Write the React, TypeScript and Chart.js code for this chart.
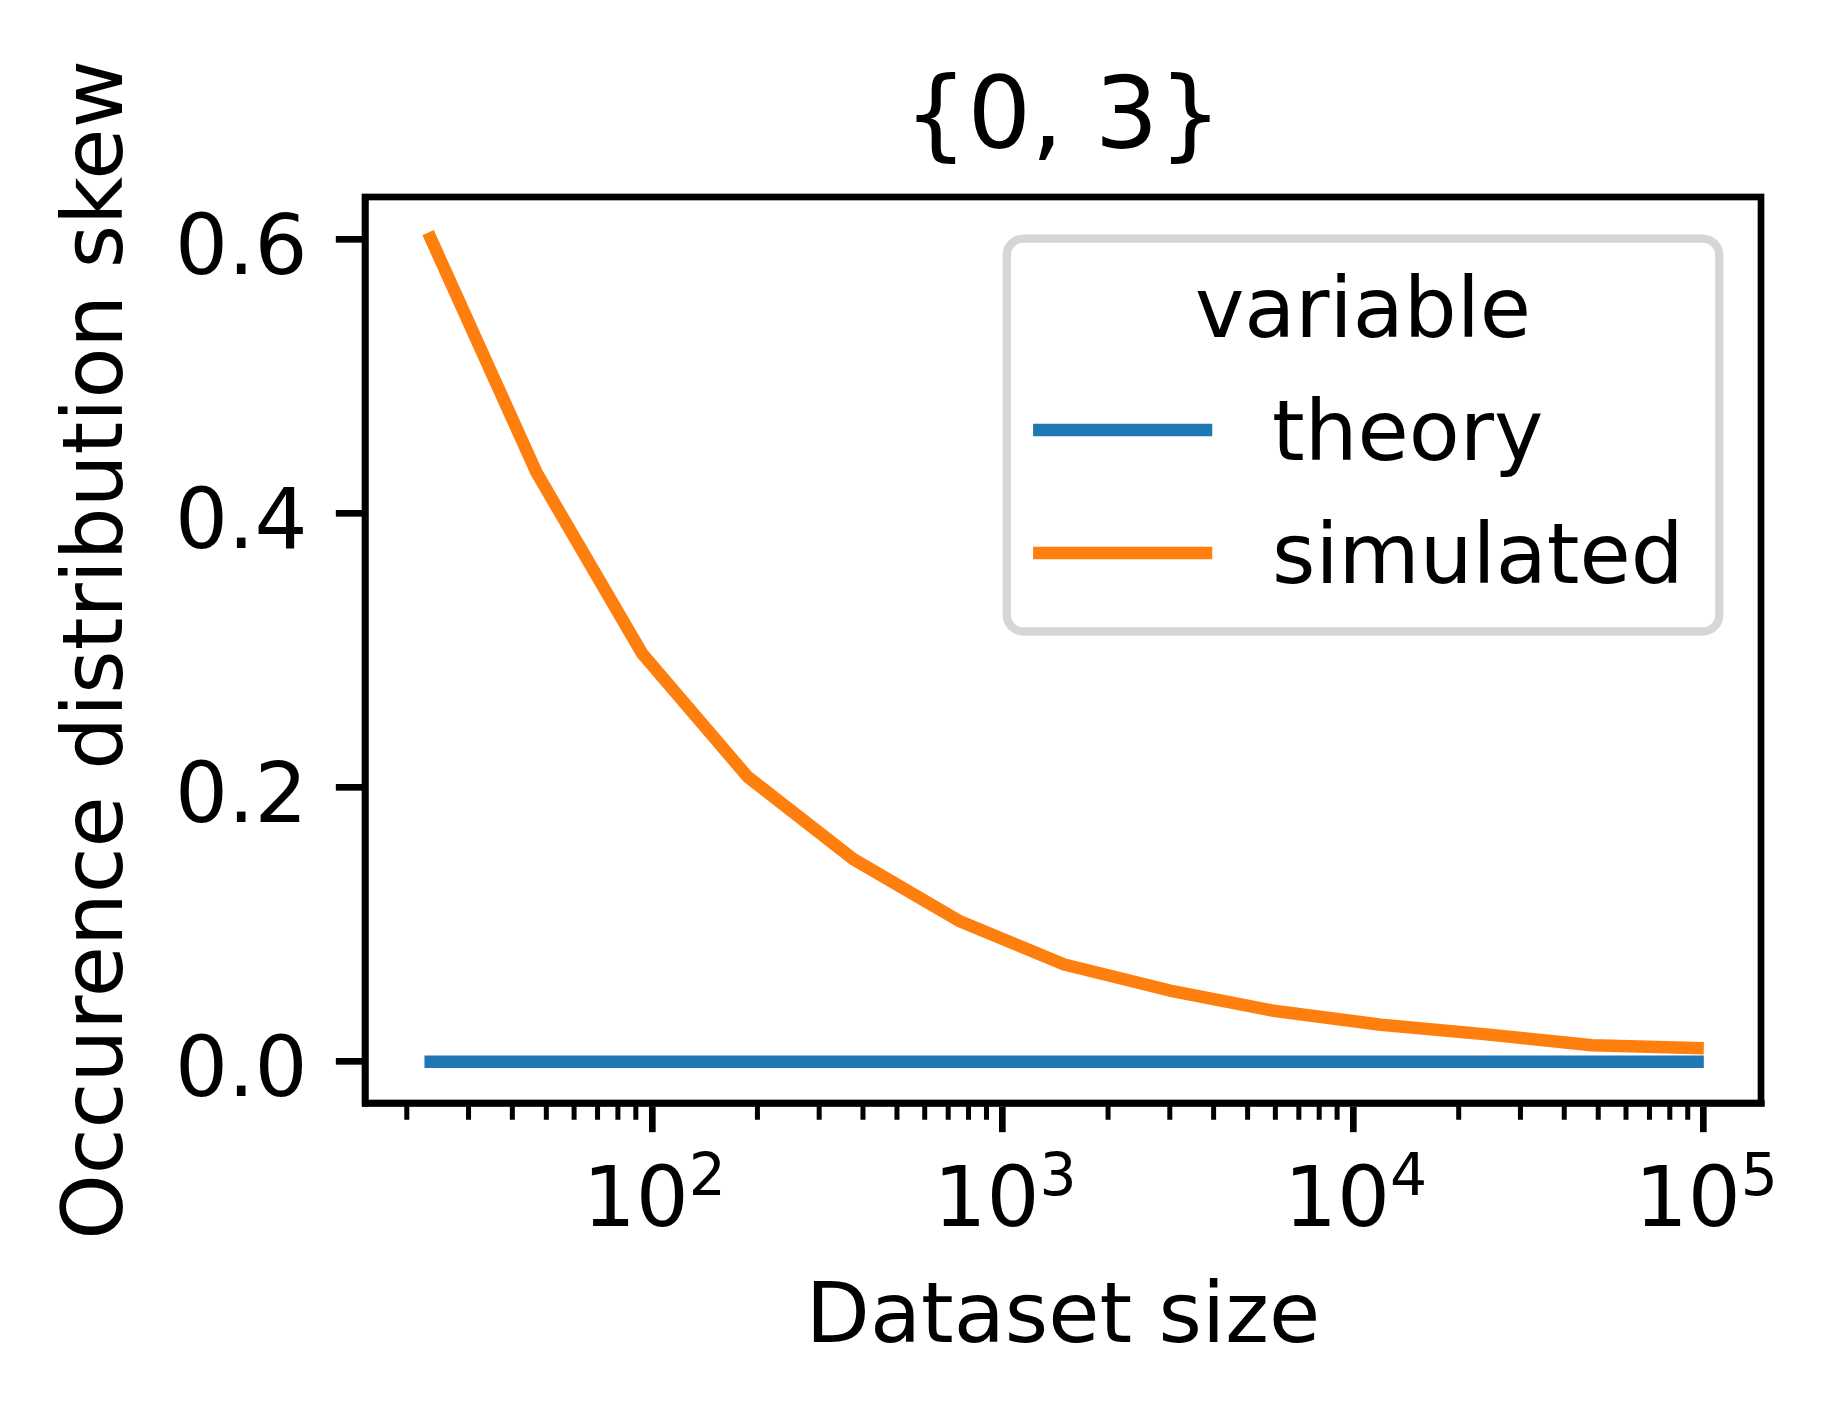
import React, { useEffect, useRef } from 'react';
import { Chart, registerables } from 'chart.js';

Chart.register(...registerables);

// data
const datasetSizes = [23.4, 46.9, 93.8, 187.5, 375, 750, 1500, 3000, 6000, 12000, 24000, 48000, 96000];
const theorySkew = [0, 0, 0, 0, 0, 0, 0, 0, 0, 0, 0, 0, 0];
const simulatedSkew = [0.601, 0.430, 0.298, 0.208, 0.148, 0.103, 0.071, 0.052, 0.037, 0.027, 0.020, 0.012, 0.010];
const seriesNames = ['theory', 'simulated'];
const seriesColors = ['#1f77b4', '#ff7f0e'];
const yTickValues = [0, 0.2, 0.4, 0.6];
const xMajorExponents = [2, 3, 4, 5];
const chartTitle = '{0, 3}';
const legendTitle = 'variable';
const xTitle = 'Dataset size';
const yTitle = 'Occurence distribution skew';

// figure geometry (600 dpi look)
const W = 1833;
const H = 1417;
const PT = 600 / 72;
const FONT = 10 * PT;
const TITLE_FONT = 12 * PT;
const SUP_FONT = 0.7 * FONT;
const LINE_W = 1.5 * PT;
const SPINE_W = 0.8 * PT;
const MAJOR_LEN = 3.5 * PT;
const MINOR_LEN = 2 * PT;
const MINOR_W = 0.6 * PT;
const AREA = { left: 365, top: 197, right: 1761, bottom: 1103 };
const FAMILY = '"DejaVu Sans", sans-serif';

const decorPlugin = {
  id: 'mplDecor',
  afterDraw(chart: any) {
    const { ctx, chartArea: a, scales } = chart;
    const xs = scales.x;
    const ys = scales.y;
    ctx.save();

    // spines
    ctx.strokeStyle = '#000';
    ctx.lineWidth = SPINE_W;
    ctx.lineJoin = 'miter';
    ctx.strokeRect(a.left, a.top, a.right - a.left, a.bottom - a.top);

    // minor log ticks
    ctx.lineWidth = MINOR_W;
    ctx.lineCap = 'butt';
    ctx.beginPath();
    for (let e = 1; e <= 5; e++) {
      for (let k = 2; k <= 9; k++) {
        const v = k * Math.pow(10, e);
        if (v < xs.min || v > xs.max) continue;
        const px = xs.getPixelForValue(v);
        ctx.moveTo(px, a.bottom);
        ctx.lineTo(px, a.bottom + MINOR_LEN);
      }
    }
    ctx.stroke();

    ctx.fillStyle = '#000';
    ctx.textBaseline = 'alphabetic';

    // y tick labels
    ctx.font = `${FONT}px ${FAMILY}`;
    ctx.textAlign = 'right';
    yTickValues.forEach((v) => {
      ctx.fillText(v.toFixed(1), a.left - MAJOR_LEN - 28.3, ys.getPixelForValue(v) + 34);
    });

    // x tick labels 10^n
    ctx.textAlign = 'left';
    xMajorExponents.forEach((e) => {
      const px = xs.getPixelForValue(Math.pow(10, e));
      ctx.font = `${FONT}px ${FAMILY}`;
      const wb = ctx.measureText('10').width;
      ctx.font = `${SUP_FONT}px ${FAMILY}`;
      const ws = ctx.measureText(String(e)).width;
      const start = px - (wb + ws) / 2 + 2.5;
      ctx.font = `${FONT}px ${FAMILY}`;
      ctx.fillText('10', start, a.bottom + 123);
      ctx.font = `${SUP_FONT}px ${FAMILY}`;
      ctx.fillText(String(e), start + wb, a.bottom + 92);
    });

    // titles
    const cx = (a.left + a.right) / 2;
    ctx.textAlign = 'center';
    ctx.font = `${TITLE_FONT}px ${FAMILY}`;
    ctx.fillText(chartTitle, cx, 148);
    ctx.font = `${FONT}px ${FAMILY}`;
    ctx.fillText(xTitle, cx, 1342);
    ctx.save();
    ctx.translate(122, (a.top + a.bottom) / 2);
    ctx.rotate(-Math.PI / 2);
    ctx.fillText(yTitle, 0, 0);
    ctx.restore();

    // legend
    const pad = 0.5 * FONT;
    const bw = 712.6;
    const bh = 392.8;
    const bx = a.right - pad - bw;
    const by = a.top + pad;
    const r = 0.2 * FONT;
    ctx.beginPath();
    ctx.moveTo(bx + r, by);
    ctx.arcTo(bx + bw, by, bx + bw, by + bh, r);
    ctx.arcTo(bx + bw, by + bh, bx, by + bh, r);
    ctx.arcTo(bx, by + bh, bx, by, r);
    ctx.arcTo(bx, by, bx + bw, by, r);
    ctx.closePath();
    ctx.fillStyle = '#fff';
    ctx.fill();
    ctx.strokeStyle = '#d6d6d6';
    ctx.lineWidth = 1 * PT;
    ctx.stroke();

    ctx.fillStyle = '#000';
    ctx.textAlign = 'center';
    ctx.fillText(legendTitle, bx + bw / 2, by + 98.3);
    ctx.textAlign = 'left';
    seriesNames.forEach((name, i) => {
      const rowY = by + 191.3 + i * 123;
      ctx.strokeStyle = seriesColors[i];
      ctx.lineWidth = LINE_W;
      ctx.lineCap = 'square';
      ctx.beginPath();
      ctx.moveTo(bx + 32.6, rowY);
      ctx.lineTo(bx + 32.6 + 2 * FONT, rowY);
      ctx.stroke();
      ctx.fillText(name, bx + 265.3, rowY + 30);
    });

    ctx.restore();
  },
};

const SkewChart = () => {
  const canvasRef = useRef<HTMLCanvasElement | null>(null);
  const chartRef = useRef<Chart | null>(null);

  useEffect(() => {
    if (!canvasRef.current) return;
    if (chartRef.current) chartRef.current.destroy();

    const series = [theorySkew, simulatedSkew];
    chartRef.current = new Chart(canvasRef.current, {
      type: 'line',
      data: {
        datasets: seriesNames.map((name, i) => ({
          label: name,
          data: datasetSizes.map((x, j) => ({ x, y: series[i][j] })),
          borderColor: seriesColors[i],
          backgroundColor: seriesColors[i],
          borderWidth: LINE_W,
          borderCapStyle: 'square',
          borderJoinStyle: 'round',
          pointRadius: 0,
          tension: 0,
          fill: false,
          // simulated drawn on top, as in the original
          order: i === 0 ? 1 : 0,
        })),
      },
      options: {
        animation: false,
        responsive: false,
        devicePixelRatio: 1,
        events: [],
        layout: { padding: { top: AREA.top, right: W - AREA.right, left: 0, bottom: 0 } },
        plugins: {
          legend: { display: false },
          title: { display: false },
          tooltip: { enabled: false },
        },
        scales: {
          x: {
            type: 'logarithmic',
            position: 'bottom',
            min: 15.2,
            max: 145600,
            afterBuildTicks: (s: any) => {
              s.ticks = xMajorExponents.map((e) => ({ value: Math.pow(10, e), major: true }));
            },
            afterFit: (s: any) => {
              s.height = H - AREA.bottom;
            },
            ticks: { display: false },
            grid: {
              display: true,
              drawOnChartArea: false,
              drawTicks: true,
              tickLength: MAJOR_LEN,
              tickWidth: SPINE_W,
              tickColor: '#000',
              lineWidth: SPINE_W,
              color: '#000',
            },
            border: { display: true, width: SPINE_W, color: '#000' },
          },
          y: {
            type: 'linear',
            position: 'left',
            min: -0.0301,
            max: 0.6312,
            afterBuildTicks: (s: any) => {
              s.ticks = yTickValues.map((v) => ({ value: v }));
            },
            afterFit: (s: any) => {
              s.width = AREA.left;
            },
            ticks: { display: false },
            grid: {
              display: true,
              drawOnChartArea: false,
              drawTicks: true,
              tickLength: MAJOR_LEN,
              tickWidth: SPINE_W,
              tickColor: '#000',
              lineWidth: SPINE_W,
              color: '#000',
            },
            border: { display: true, width: SPINE_W, color: '#000' },
          },
        },
      } as any,
      plugins: [decorPlugin],
    });

    return () => {
      if (chartRef.current) {
        chartRef.current.destroy();
        chartRef.current = null;
      }
    };
  }, []);

  return (
    <div style={{ position: 'fixed', left: 0, top: 0, width: W, height: H, background: '#fff' }}>
      <canvas ref={canvasRef} width={W} height={H} style={{ display: 'block', width: W, height: H }} />
    </div>
  );
};

export default function App() {
  return <SkewChart />;
}
